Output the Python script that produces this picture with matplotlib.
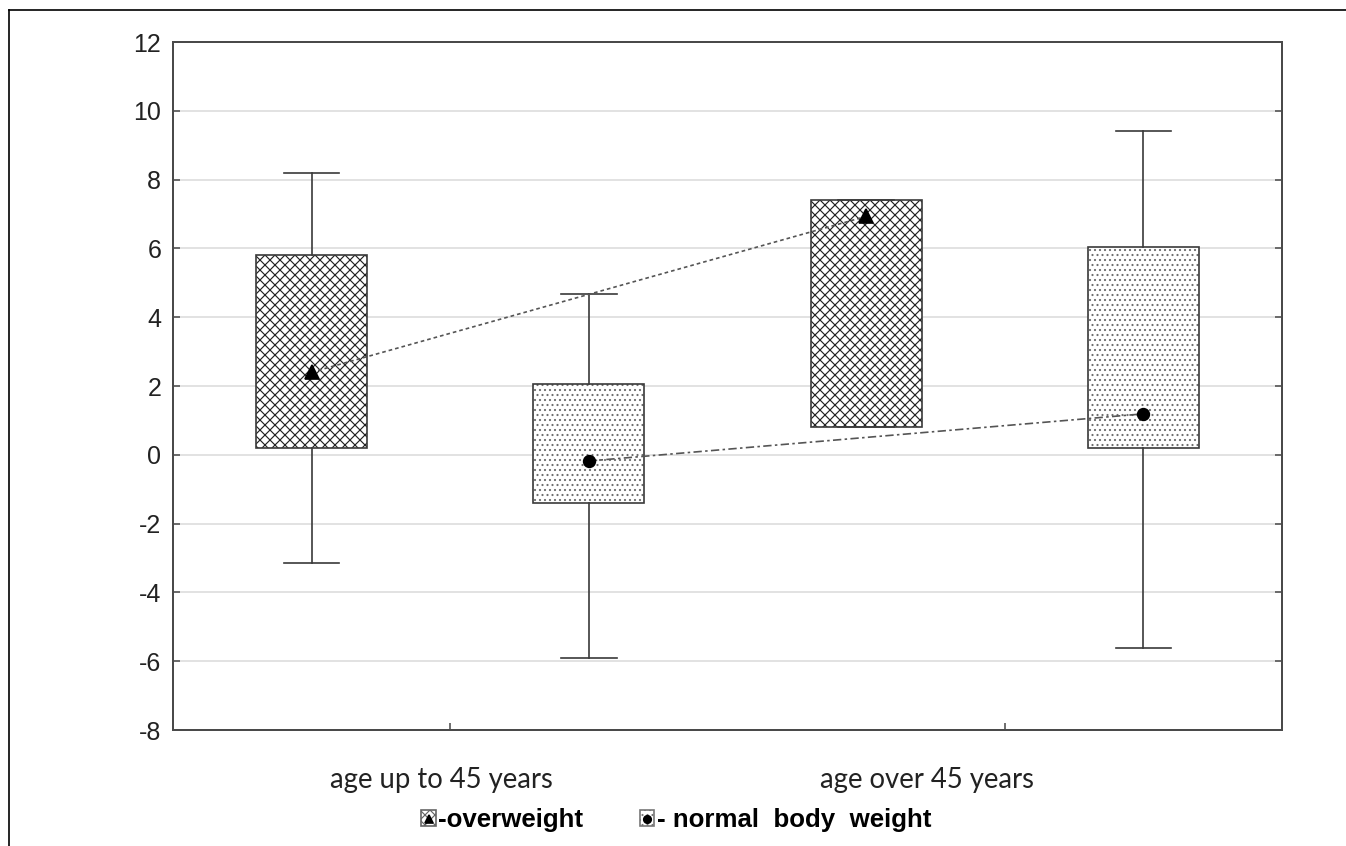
import matplotlib
matplotlib.use("Agg")
import matplotlib.pyplot as plt
from matplotlib.lines import Line2D
from matplotlib.patches import Patch
from matplotlib.legend_handler import HandlerTuple

# Categories and series
groups = ["age up to 45 years", "age over 45 years"]
series = ["overweight", "normal  body  weight"]

# Overweight group: mean, box (q1, q3) and whisker ends per age group
ow_mean = [2.4, 6.93]
ow_q1 = [0.2, 0.8]
ow_q3 = [5.8, 7.4]
ow_lo = [-3.15, 0.8]
ow_hi = [8.2, 7.4]

# Normal body weight group
nw_mean = [-0.18, 1.19]
nw_q1 = [-1.4, 0.2]
nw_q3 = [2.05, 6.05]
nw_lo = [-5.92, -5.62]
nw_hi = [4.68, 9.4]

y_ticks = [-8, -6, -4, -2, 0, 2, 4, 6, 8, 10, 12]

DPI = 120
plt.rcParams["hatch.linewidth"] = 0.7

fig = plt.figure(figsize=(1346 / DPI, 846 / DPI), dpi=DPI)
ax = fig.add_axes([173 / 1346, 1 - 730 / 846, (1282 - 173) / 1346, (730 - 42) / 846])

ow_pos = [0.5, 2.5]
nw_pos = [1.5, 3.5]
box_w = 0.4

def stats(q1, q3, lo, hi, m):
    return [dict(med=a, q1=a, q3=b, whislo=c, whishi=d, mean=e, fliers=[])
            for a, b, c, d, e in zip(q1, q3, lo, hi, m)]

# hatched fills
ax.bar(ow_pos, [b - a for a, b in zip(ow_q1, ow_q3)], bottom=ow_q1, width=box_w,
       color="white", edgecolor="#222222", linewidth=0, hatch="xxxx", zorder=2)
ax.bar(nw_pos, [b - a for a, b in zip(nw_q1, nw_q3)], bottom=nw_q1, width=box_w,
       color="white", edgecolor="#6e6e6e", linewidth=0, hatch="....", zorder=2)

# box outlines, whiskers and caps
line_col = "#3a3a3a"
for st, pos in ((stats(ow_q1, ow_q3, ow_lo, ow_hi, ow_mean), ow_pos),
                (stats(nw_q1, nw_q3, nw_lo, nw_hi, nw_mean), nw_pos)):
    ax.bxp(st, positions=pos, widths=box_w, capwidths=0.2, showfliers=False,
           manage_ticks=False, patch_artist=True,
           boxprops=dict(facecolor="none", edgecolor=line_col, linewidth=1.0),
           whiskerprops=dict(color=line_col, linewidth=1.0),
           capprops=dict(color=line_col, linewidth=1.0),
           medianprops=dict(visible=False), zorder=3)

# mean markers with connecting lines
ax.plot(ow_pos, ow_mean, color="#555555", linestyle=(0, (2.2, 1.8)), linewidth=1.0,
        marker="^", markersize=8, markerfacecolor="black", markeredgecolor="black", zorder=4)
ax.plot(nw_pos, nw_mean, color="#555555", linestyle=(0, (5, 2, 1.5, 2)), linewidth=1.0,
        marker="o", markersize=7, markerfacecolor="black", markeredgecolor="black", zorder=4)

ax.set_xlim(0, 4)
ax.set_ylim(-8, 12)
ax.set_yticks(y_ticks)
ax.set_yticklabels([str(v) for v in y_ticks], fontsize=15, color="#222222",
                   family=["Liberation Sans", "DejaVu Sans"])
ax.set_xticks([1, 3])
ax.set_xticklabels([])
ax.tick_params(axis="y", direction="in", length=4, width=1.0, color="#555555",
               left=True, right=True, pad=7)
ax.tick_params(axis="x", direction="in", length=4, width=1.0, color="#555555")
ax.yaxis.grid(True, color="#dddddd", linewidth=1.0)
ax.set_axisbelow(True)
for sp in ax.spines.values():
    sp.set_color("#4a4a4a")
    sp.set_linewidth(1.2)

# group labels under the axis
for x, lab in zip([0.967, 2.72], groups):
    ax.text(x, -0.0727, lab, transform=ax.get_xaxis_transform(), ha="center", va="center",
            fontsize=16.5, color="#222222", family=["Lato", "DejaVu Sans"])

# legend
h_ow = (Patch(facecolor="white", edgecolor="#666666", hatch="xxxx", linewidth=1.0),
        Line2D([], [], marker="^", color="black", linestyle="none", markersize=5))
h_nw = (Patch(facecolor="white", edgecolor="#777777", hatch="....", linewidth=1.0),
        Line2D([], [], marker="o", color="black", linestyle="none", markersize=4.5))
fig.legend([h_ow, h_nw], ["-" + series[0], "- " + series[1]],
           handler_map={tuple: HandlerTuple(ndivide=1)},
           loc="center", bbox_to_anchor=((422 + 931) / 2 / 1346, 1 - 820 / 846),
           ncol=2, frameon=False, handlelength=0.55, handleheight=0.55,
           handletextpad=0.1, columnspacing=2.2, borderpad=0, borderaxespad=0,
           prop=dict(family=["Liberation Sans", "DejaVu Sans"], size=15.5, weight="bold"))

# outer frame
fig.add_artist(Line2D([9 / 1346, 9 / 1346], [0, 1 - 10 / 846], transform=fig.transFigure,
                      color="black", linewidth=1.0))
fig.add_artist(Line2D([9 / 1346, 1], [1 - 10 / 846, 1 - 10 / 846], transform=fig.transFigure,
                      color="black", linewidth=1.0))

fig.savefig("out.png", dpi=DPI, facecolor="white")
